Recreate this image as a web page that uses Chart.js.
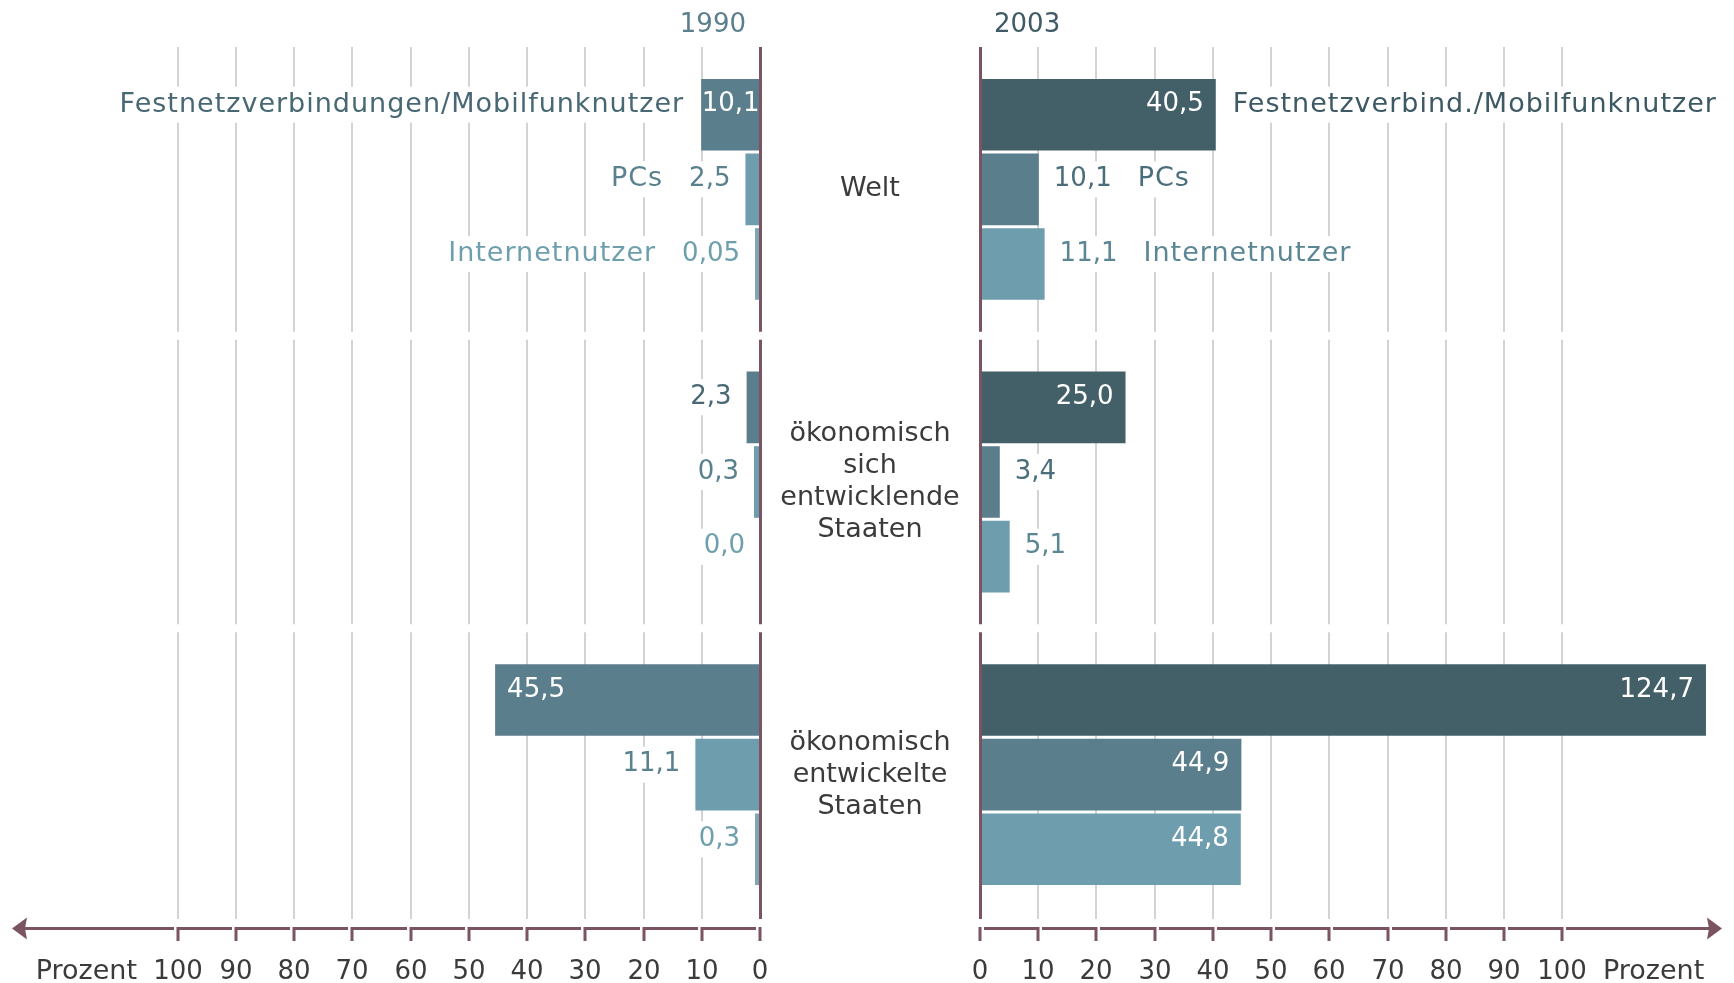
<!DOCTYPE html>
<html>
<head>
<meta charset="utf-8">
<script src="https://cdn.jsdelivr.net/npm/chart.js@4.4.0/dist/chart.umd.min.js"></script>
<style>
    html, body { margin: 0; padding: 0; background: #fff; }
    #wrap { position: relative; width: 1734px; height: 983px; }
    #wrap canvas { position: absolute; left: 0; top: 0; }
</style>
</head>
<body>
<div id="wrap">
    <canvas id="chart1990" width="1734" height="983"></canvas>
    <canvas id="chart2003" width="1734" height="983"></canvas>
</div>
<script>
// --- data (Prozent) ---
const groups = [
    ['Welt'],
    ['ökonomisch', 'sich', 'entwicklende', 'Staaten'],
    ['ökonomisch', 'entwickelte', 'Staaten']
];
const names1990 = ['Festnetzverbindungen/Mobilfunknutzer', 'PCs', 'Internetnutzer'];
const names2003 = ['Festnetzverbind./Mobilfunknutzer', 'PCs', 'Internetnutzer'];

const festnetz1990 = [10.1, 2.3, 45.5];
const pcs1990 = [2.5, 0.3, 11.1];
const internet1990 = [0.05, 0.0, 0.3];

const festnetz2003 = [40.5, 25.0, 124.7];
const pcs2003 = [10.1, 3.4, 44.9];
const internet2003 = [11.1, 5.1, 44.8];

const tickValues = [0, 10, 20, 30, 40, 50, 60, 70, 80, 90, 100];

// --- look ---
const INK = '#3b3b3b';
const AXIS = '#7a5460';
const GRID = '#d3d3d3';
const FONT = 'DejaVu Sans';
const MID_X = 870;

function fmt(v) {
    return (v > 0 && v < 0.1 ? v.toFixed(2) : v.toFixed(1)).replace('.', ',');
}

// vertical line broken at the gaps between the category bands
function vLine(ctx, x, top, bottom, gaps, color, w) {
    ctx.strokeStyle = color;
    ctx.lineWidth = w;
    ctx.beginPath();
    let y0 = top;
    gaps.forEach(g => {
        ctx.moveTo(x, y0);
        ctx.lineTo(x, g - 4);
        y0 = g + 4;
    });
    ctx.moveTo(x, y0);
    ctx.lineTo(x, bottom);
    ctx.stroke();
}

// text on a white box, running away from the bar
function outsideLabel(ctx, txt, x, y, side, color) {
    const tw = ctx.measureText(txt).width;
    ctx.fillStyle = '#fff';
    const bx = side < 0 ? x - tw - 4 : x - 4;
    ctx.fillRect(bx, y - 18, tw + 8, 36);
    ctx.fillStyle = color;
    ctx.textAlign = side < 0 ? 'right' : 'left';
    ctx.fillText(txt, x, y);
    return tw;
}

function panelPlugin(side, names, textColors, year, yearColor) {
    return {
        id: 'panel' + year,
        beforeDatasetsDraw(chart) {
            const { ctx, chartArea: a, scales: { x, y } } = chart;
            const gaps = [];
            for (let i = 1; i < groups.length; i++) {
                gaps.push((y.getPixelForValue(i - 1) + y.getPixelForValue(i)) / 2);
            }
            ctx.save();
            tickValues.forEach(v => {
                if (v === 0) return;
                vLine(ctx, Math.round(x.getPixelForValue(v)), a.top + 4, a.bottom - 2, gaps, GRID, 2);
            });
            ctx.restore();
        },
        afterDatasetsDraw(chart) {
            const { ctx, chartArea: a, scales: { x, y } } = chart;
            const px = v => Math.round(x.getPixelForValue(v));
            const zero = px(0);
            const gaps = [];
            for (let i = 1; i < groups.length; i++) {
                gaps.push((y.getPixelForValue(i - 1) + y.getPixelForValue(i)) / 2);
            }
            ctx.save();
            ctx.textBaseline = 'middle';

            // zero line
            vLine(ctx, zero + 0.5, a.top + 4, a.bottom - 2, gaps, AXIS, 3);

            // bottom axis with arrow
            const ay = 928.5;
            const gap = 4;
            ctx.strokeStyle = AXIS;
            ctx.fillStyle = AXIS;
            ctx.lineWidth = 3;
            ctx.beginPath();
            for (let i = 1; i < tickValues.length; i++) {
                const inner = px(tickValues[i - 1]);
                const outer = px(tickValues[i]);
                ctx.moveTo(outer, ay);
                ctx.lineTo(inner + side * gap, ay);
            }
            const tip = side < 0 ? a.left - 4 : a.right - 2;
            ctx.moveTo(px(100) + side * gap, ay);
            ctx.lineTo(tip - side * 12, ay);
            tickValues.forEach(v => {
                ctx.moveTo(px(v), ay - 1.5);
                ctx.lineTo(px(v), 941);
            });
            ctx.stroke();
            ctx.beginPath();
            ctx.moveTo(tip, ay);
            ctx.lineTo(tip - side * 15, ay - 11);
            ctx.lineTo(tip - side * 13, ay);
            ctx.lineTo(tip - side * 15, ay + 11);
            ctx.closePath();
            ctx.fill();

            // tick labels
            ctx.font = '26px "' + FONT + '"';
            ctx.fillStyle = INK;
            ctx.textAlign = 'center';
            tickValues.forEach(v => ctx.fillText(String(v), px(v), 972));
            ctx.font = '27px "' + FONT + '"';
            ctx.textAlign = side < 0 ? 'right' : 'left';
            ctx.fillText('Prozent', px(100) + side * 41, 972);

            // year
            ctx.font = '26px "' + FONT + '"';
            ctx.fillStyle = yearColor;
            ctx.textAlign = side < 0 ? 'right' : 'left';
            ctx.fillText(year, zero + side * 14, 25);

            // value and series labels
            chart.data.datasets.forEach((ds, di) => {
                const meta = chart.getDatasetMeta(di);
                meta.data.forEach((bar, i) => {
                    const v = ds.data[i];
                    const end = v === 0 ? zero : bar.x;
                    const w = Math.abs(end - zero);
                    const ty = bar.y - 10;
                    const txt = fmt(v);
                    ctx.font = '26px "' + FONT + '"';
                    const tw = ctx.measureText(txt).width;
                    let nameX;
                    if (w >= tw + (di === 0 ? 0 : 60)) {
                        ctx.fillStyle = '#fff';
                        if (w >= tw + 24) {
                            ctx.textAlign = side < 0 ? 'left' : 'right';
                            ctx.fillText(txt, end - side * 12, ty);
                        } else {
                            ctx.textAlign = 'center';
                            ctx.fillText(txt, (end + zero) / 2, ty);
                        }
                        nameX = end + side * 17;
                    } else {
                        const x0 = end + side * 15;
                        outsideLabel(ctx, txt, x0, ty, side, textColors[di]);
                        nameX = x0 + side * (tw + 26);
                    }
                    if (i === 0) {
                        ctx.font = '27px "' + FONT + '"';
                        ctx.letterSpacing = '1px';
                        outsideLabel(ctx, names[di], nameX, ty, side, textColors[di]);
                        ctx.letterSpacing = '0px';
                    }
                });
            });

            // category labels in the middle
            if (side > 0) {
                ctx.font = '27px "' + FONT + '"';
                ctx.fillStyle = INK;
                ctx.textAlign = 'center';
                groups.forEach((lines, i) => {
                    const cy = y.getPixelForValue(i);
                    const lh = 32;
                    const y0 = cy - (lines.length - 1) * lh / 2;
                    lines.forEach((t, k) => ctx.fillText(t, MID_X, y0 + k * lh));
                });
            }
            ctx.restore();
        }
    };
}

function makeChart(canvasId, side, series, colors, names, textColors, year, yearColor) {
    const ctx = document.getElementById(canvasId).getContext('2d');
    return new Chart(ctx, {
        type: 'bar',
        data: {
            labels: groups.map(g => g.join(' ')),
            datasets: series.map((data, k) => ({
                label: names[k],
                data: data,
                backgroundColor: colors[k],
                borderWidth: 0,
                minBarLength: side < 0 && k > 0 ? 6 - (k - 1) : 0
            }))
        },
        options: {
            indexAxis: 'y',
            responsive: false,
            animation: false,
            devicePixelRatio: 1,
            barPercentage: 0.96,
            categoryPercentage: 0.765,
            layout: {
                padding: side < 0
                    ? { left: 16, right: 974, top: 43, bottom: 62 }
                    : { left: 980, right: 10, top: 43, bottom: 62 }
            },
            plugins: {
                legend: { display: false },
                tooltip: { enabled: false }
            },
            scales: {
                x: { type: 'linear', min: 0, max: 127.8, reverse: side < 0, display: false },
                y: { type: 'category', display: false }
            }
        },
        plugins: [panelPlugin(side, names, textColors, year, yearColor)]
    });
}

const hideZero = color => c => (c.raw === 0 ? 'rgba(0,0,0,0)' : color);

makeChart('chart1990', -1,
    [festnetz1990, pcs1990, internet1990],
    ['#5a7e8b', '#6e9ead', hideZero('#7fa7b3')],
    names1990,
    ['#486874', '#5a818e', '#6e9fac'],
    '1990', '#5b7f8c');

makeChart('chart2003', 1,
    [festnetz2003, pcs2003, internet2003],
    ['#435f68', '#5a7e8b', '#6e9ead'],
    names2003,
    ['#3d5963', '#4a6e7b', '#5b8795'],
    '2003', '#3f5b65');
</script>
</body>
</html>
